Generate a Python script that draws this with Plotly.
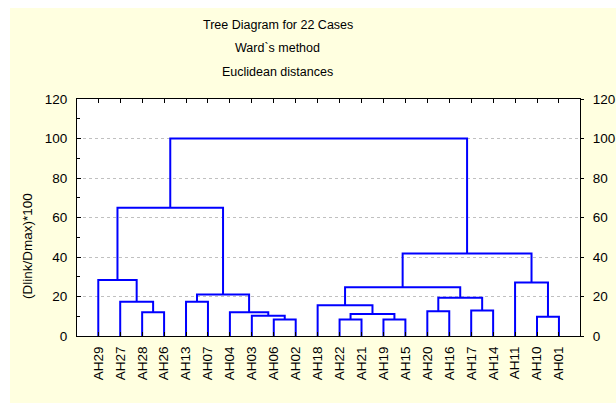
import plotly.graph_objects as go

# Leaves in dendrogram order
leaves = ["AH29", "AH27", "AH28", "AH26", "AH13", "AH07", "AH04", "AH03", "AH06", "AH02",
          "AH18", "AH22", "AH21", "AH19", "AH15", "AH20", "AH16", "AH17", "AH14", "AH11",
          "AH10", "AH01"]

# Linkage: merge names, their two children, and linkage distance (Dlink/Dmax)*100
merge_names = ["m0", "m1", "m2", "m3", "m4", "m5", "m6", "m7", "m8", "m9", "m10",
               "m11", "m12", "m13", "m14", "m15", "m16", "m17", "m18", "m19", "m20"]
merge_left = ["AH06", "AH19", "AH22", "AH10", "AH03", "m2", "AH28", "AH04", "AH20", "AH17", "AH18",
              "AH27", "AH13", "m8", "m12", "m10", "AH11", "AH29", "m15", "m17", "m19"]
merge_right = ["AH02", "AH15", "AH21", "AH01", "m0", "m1", "AH26", "m4", "AH16", "AH14", "m5",
               "m6", "AH07", "m9", "m7", "m13", "m3", "m11", "m16", "m14", "m18"]
merge_height = [8.3, 8.3, 8.4, 9.8, 10.2, 11.2, 12.0, 12.0, 12.5, 12.9, 15.6,
                17.4, 17.4, 19.4, 21.0, 24.7, 27.1, 28.4, 41.8, 65.0, 100.0]

y_ticks = [0, 20, 40, 60, 80, 100, 120]

# Compute node positions
pos = {name: i + 1 for i, name in enumerate(leaves)}
hgt = {name: 0.0 for name in leaves}
xs, ys = [], []
for name, a, b, h in zip(merge_names, merge_left, merge_right, merge_height):
    xa, xb = pos[a], pos[b]
    xs += [xa, xa, xb, xb, None]
    ys += [hgt[a], h, h, hgt[b], None]
    pos[name] = (xa + xb) / 2
    hgt[name] = h

FONT = "Liberation Sans, Arial, sans-serif"
TICK_SIZE = 13.5

fig = go.Figure()
fig.add_trace(go.Scatter(x=xs, y=ys, mode="lines",
                         line=dict(color="#0000FF", width=2),
                         hoverinfo="skip", showlegend=False))
# invisible trace for right axis
fig.add_trace(go.Scatter(x=[1], y=[0], yaxis="y2", mode="markers",
                         marker=dict(opacity=0), hoverinfo="skip", showlegend=False))

axis_common = dict(showline=True, linecolor="black", linewidth=1, automargin=False,
                   tickfont=dict(family=FONT, size=TICK_SIZE, color="black"), zeroline=False)

fig.update_layout(
    width=616, height=403,
    margin=dict(l=77, r=36, t=99, b=67),
    paper_bgcolor="#FFFFE0",
    plot_bgcolor="white",
    hovermode=False,
    font=dict(family=FONT, size=12, color="black"),
    xaxis=dict(range=[0.03, 22.96], tickvals=list(range(1, len(leaves) + 1)),
               ticktext=leaves, tickangle=-90, ticks="inside", ticklen=4,
               tickcolor="black", mirror="ticks", showgrid=False,
               ticklabelstandoff=4, **axis_common),
    yaxis=dict(range=[0, 120], tickvals=y_ticks, ticks="inside", ticklen=4,
               tickcolor="black", showgrid=True, gridcolor="#C0C0C0",
               griddash="dot", gridwidth=1,
               minor=dict(dtick=10, ticks="inside", ticklen=3, tickcolor="black",
                          showgrid=False),
               ticklabelstandoff=6, **axis_common),
    yaxis2=dict(range=[0, 120], tickvals=y_ticks, overlaying="y", side="right",
                ticks="outside", ticklen=3, tickcolor="black", showgrid=False,
                ticklabelstandoff=6, **axis_common),
    shapes=[
        dict(type="rect", xref="paper", yref="paper", x0=-0.2, x1=-0.1332,
             y0=-0.4, y1=1.5, fillcolor="white", line=dict(width=0), layer="above"),
        dict(type="rect", xref="paper", yref="paper", x0=-0.2, x1=1.2,
             y0=1.384, y1=1.5, fillcolor="white", line=dict(width=0), layer="above"),
    ],
    annotations=[
        dict(text="Tree Diagram for 22 Cases", x=0.3996, y=1.312, xref="paper", yref="paper",
             showarrow=False, xanchor="center", yanchor="middle", font=dict(size=12.5)),
        dict(text="Ward`s method", x=0.3996, y=1.215, xref="paper", yref="paper",
             showarrow=False, xanchor="center", yanchor="middle", font=dict(size=12.5)),
        dict(text="Euclidean distances", x=0.3996, y=1.114, xref="paper", yref="paper",
             showarrow=False, xanchor="center", yanchor="middle", font=dict(size=12.5)),
        dict(text="(Dlink/Dmax)*100", x=-0.0974, y=0.38, xref="paper", yref="paper",
             showarrow=False, xanchor="center", yanchor="middle", textangle=-90,
             font=dict(size=13.5)),
    ],
)

fig.write_html("out.html",
               config={"displayModeBar": False, "staticPlot": True},
               post_script="document.body.style.margin='0';document.body.style.overflow='hidden';")
